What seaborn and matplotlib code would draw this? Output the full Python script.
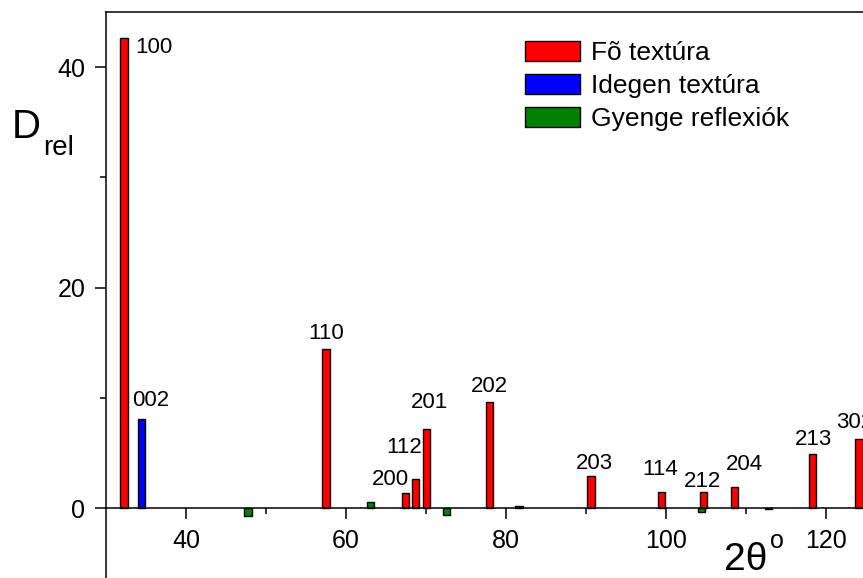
import numpy as np
import pandas as pd
import matplotlib
matplotlib.use("Agg")
import matplotlib.pyplot as plt
from matplotlib.patches import Patch
from matplotlib.ticker import MultipleLocator
import seaborn as sns

# --- dane ---
pos = [32.25, 34.4, 47.75, 57.5, 63.1, 67.4, 68.7, 70.1, 72.6, 77.95, 81.6,
       90.6, 99.4, 104.45, 104.7, 108.5, 112.75, 118.25, 124.1]
d_rel = [42.6, 8.07, -0.7, 14.4, 0.5, 1.33, 2.66, 7.13, -0.65, 9.58, 0.2,
         2.93, 1.45, -0.4, 1.48, 1.9, -0.1, 4.9, 6.25]
kind = ['Fõ textúra', 'Idegen textúra', 'Gyenge reflexiók', 'Fõ textúra',
        'Gyenge reflexiók', 'Fõ textúra', 'Fõ textúra', 'Fõ textúra',
        'Gyenge reflexiók', 'Fõ textúra', 'Gyenge reflexiók', 'Fõ textúra',
        'Fõ textúra', 'Gyenge reflexiók', 'Fõ textúra', 'Fõ textúra',
        'Gyenge reflexiók', 'Fõ textúra', 'Fõ textúra']
hkl = ['100', '002', '', '110', '', '200', '112', '201', '', '202', '',
       '203', '114', '', '212', '204', '', '213', '302']

kinds = ['Fõ textúra', 'Idegen textúra', 'Gyenge reflexiók']
colors = ['#ff0000', '#0000ff', '#008000']

# przesunięcia etykiet (dx, dy)
offsets = {'100': (1.4, -1.3), '002': (1.2, 1.2), '110': (0, 0.9), '200': (-1.9, 0.75),
           '112': (-1.4, 2.35), '201': (0.3, 1.95), '202': (0, 0.95), '203': (0.4, 0.6),
           '114': (-0.1, 1.55), '212': (-0.1, 0.4), '204': (1.25, 1.55),
           '213': (0.15, 0.8), '302': (-0.6, 1.0)}

df = pd.DataFrame({'pos': pos, 'd': d_rel, 'kind': kind})

sns.set_style('ticks')
plt.rcParams['font.family'] = ['Liberation Sans', 'DejaVu Sans']
plt.rcParams.update({'text.color': 'black', 'axes.labelcolor': 'black',
                     'xtick.color': 'black', 'ytick.color': 'black',
                     'axes.edgecolor': 'black'})

fig = plt.figure(figsize=(8.63, 5.78), dpi=100)
ax = fig.add_axes([106 / 863, 0, 1 - 106 / 863, 1 - 12 / 578])

w = 0.9 / np.diff(np.unique(pos)).min()
sns.barplot(data=df, x='pos', y='d', hue='kind', hue_order=kinds, palette=colors,
            native_scale=True, dodge=False, width=w, errorbar=None, orient='x',
            saturation=1, edgecolor='black', linewidth=1, legend=False, ax=ax)

for x, y, lab in zip(pos, d_rel, hkl):
    if not lab:
        continue
    dx, dy = offsets[lab]
    ha = 'left' if lab == '100' else 'center'
    ax.text(x + dx, y + dy, lab, ha=ha, va='baseline', fontsize=16, clip_on=False)

ax.set_xlim(30, 124.6)
ax.set_ylim(-6.35, 45)
ax.spines['right'].set_visible(False)
ax.spines['bottom'].set_position(('data', 0))
for s in ['left', 'top', 'bottom']:
    ax.spines[s].set_linewidth(1.1)

ax.set_xticks([40, 60, 80, 100, 120])
ax.set_xticks([50, 70, 90, 110], minor=True)
ax.set_yticks([0, 20, 40])
ax.set_yticks([10, 30], minor=True)
ax.tick_params(which='major', direction='out', length=8, width=1.1, labelsize=18, pad=7)
ax.tick_params(which='minor', direction='out', length=4.5, width=1.1)
ax.set_xlabel('')
ax.set_ylabel('')

# opisy osi
fig.text(12 / 863, 1 - 138 / 578, 'D', fontsize=29, ha='left', va='baseline')
fig.text(43 / 863, 1 - 155 / 578, 'rel', fontsize=20, ha='left', va='baseline')
fig.text(724 / 863, 1 - 570 / 578, '2θ', fontsize=28, ha='left', va='baseline')
fig.text(770 / 863, 1 - 548 / 578, 'o', fontsize=18, ha='left', va='baseline')

handles = [Patch(facecolor=c, edgecolor='black', linewidth=1) for c in colors]
fig.legend(handles, kinds, loc='upper left', bbox_to_anchor=(525 / 863, 1 - 41 / 578),
           frameon=False, fontsize=19, borderpad=0, borderaxespad=0,
           handlelength=2.1, handleheight=0.8, handletextpad=0.4, labelspacing=0.33)

fig.savefig('out.png', dpi=100)
